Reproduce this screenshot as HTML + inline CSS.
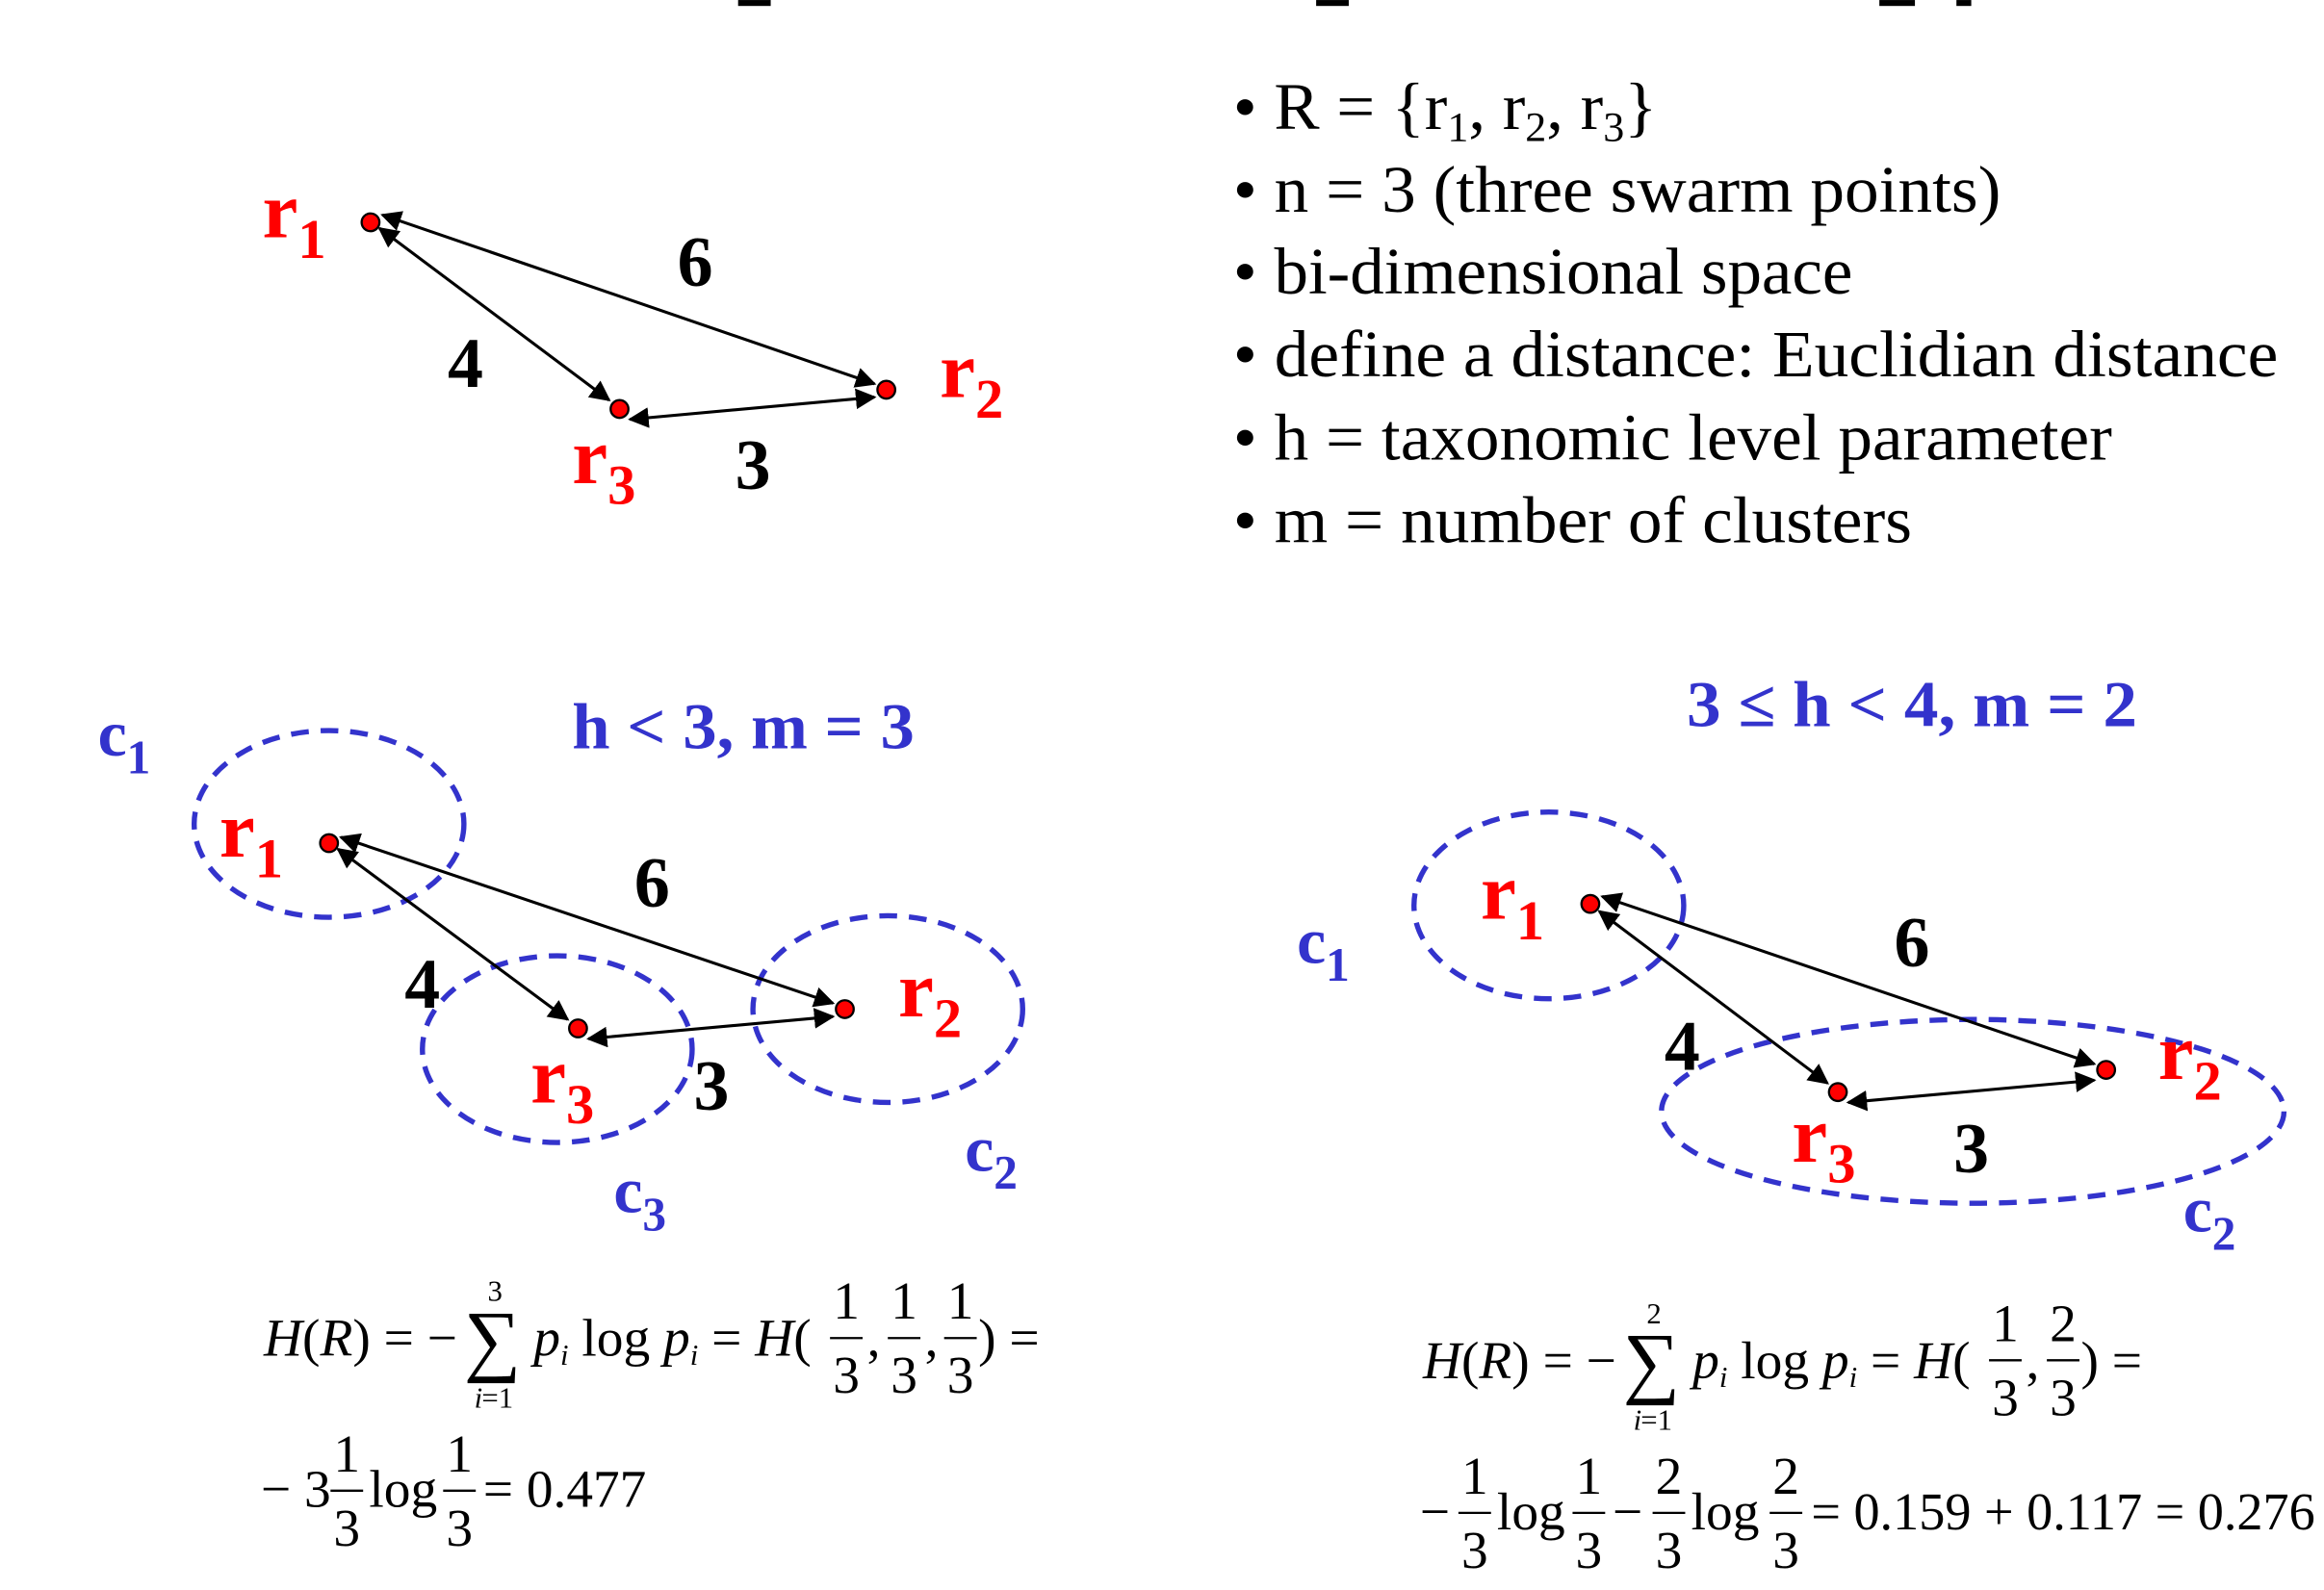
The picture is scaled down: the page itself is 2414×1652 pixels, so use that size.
<!DOCTYPE html>
<html><head><meta charset="utf-8"><style>
html,body{margin:0;padding:0;background:#fff;}
svg{display:block;}
.r{fill:#ff0000;font-family:"Liberation Serif",serif;font-weight:bold;font-size:54px;}
.n{fill:#000;font-family:"Liberation Serif",serif;font-weight:bold;font-size:48px;}
.c{fill:#3333cc;font-family:"Liberation Serif",serif;font-weight:bold;font-size:44px;}
.t{fill:#3333cc;font-family:"Liberation Serif",serif;font-weight:bold;font-size:44px;}
.b{fill:#000;font-family:"Liberation Serif",serif;font-size:45px;}
.f{fill:#000;font-family:"Liberation Serif",serif;font-size:36px;}
.fi{font-style:italic;}
.sm{font-size:20px;}
.e{fill:none;stroke:#3333cc;stroke-width:3.5;stroke-dasharray:12 8;}
.l{stroke:#000;stroke-width:2;marker-start:url(#ah);marker-end:url(#ah);}
.p{fill:#ff0000;stroke:#000;stroke-width:1.5;}
</style></head><body>
<svg width="2414" height="1652" viewBox="0 0 1568 1073" xmlns="http://www.w3.org/2000/svg">
<defs><marker id="ah" viewBox="0 0 10 10" refX="9" refY="5" markerWidth="7" markerHeight="7" orient="auto-start-reverse"><path d="M0,0 L10,5 L0,10 z" fill="#000"/></marker></defs>
<g fill="#000"><rect x="498" y="0" width="22" height="4"/><rect x="888" y="0" width="22" height="4"/><rect x="1268" y="0" width="24" height="4"/><rect x="1320" y="0" width="10" height="4"/></g>

<g>
<line class="l" x1="258" y1="145" x2="590" y2="259"/>
<line class="l" x1="256" y1="154" x2="411" y2="270"/>
<line class="l" x1="425" y1="283" x2="590" y2="268"/>
<circle class="p" cx="250" cy="150" r="6"/><circle class="p" cx="598" cy="263" r="6"/><circle class="p" cx="418" cy="276" r="6"/>
<text class="r" x="177" y="160">r<tspan font-size="38" dy="14">1</tspan></text>
<text class="r" x="634" y="268">r<tspan font-size="38" dy="14">2</tspan></text>
<text class="r" x="386" y="326">r<tspan font-size="38" dy="14">3</tspan></text>
<text class="n" x="457" y="193">6</text><text class="n" x="302" y="261">4</text><text class="n" x="496" y="330">3</text>
</g>

<g>
<text class="b" x="832" y="87" textLength="286" lengthAdjust="spacingAndGlyphs">• R = {r<tspan font-size="28" dy="8">1</tspan><tspan dy="-8">, r</tspan><tspan font-size="28" dy="8">2</tspan><tspan dy="-8">, r</tspan><tspan font-size="28" dy="8">3</tspan><tspan dy="-8">}</tspan></text>
<text class="b" x="832" y="143" textLength="518" lengthAdjust="spacingAndGlyphs">• n = 3 (three swarm points)</text>
<text class="b" x="832" y="198" textLength="418" lengthAdjust="spacingAndGlyphs">• bi-dimensional space</text>
<text class="b" x="832" y="254" textLength="705" lengthAdjust="spacingAndGlyphs">• define a distance: Euclidian distance</text>
<text class="b" x="832" y="310" textLength="593" lengthAdjust="spacingAndGlyphs">• h = taxonomic level parameter</text>
<text class="b" x="832" y="366" textLength="458" lengthAdjust="spacingAndGlyphs">• m = number of clusters</text>
</g>

<g>
<text class="t" x="386" y="505" textLength="231" lengthAdjust="spacingAndGlyphs">h &lt; 3, m = 3</text>
<ellipse class="e" cx="222" cy="556" rx="91" ry="63"/>
<ellipse class="e" cx="376" cy="708" rx="91" ry="63"/>
<ellipse class="e" cx="599" cy="681" rx="91" ry="63"/>
<line class="l" x1="230" y1="565" x2="562" y2="677"/>
<line class="l" x1="228" y1="573" x2="383" y2="688"/>
<line class="l" x1="397" y1="701" x2="562" y2="686"/>
<circle class="p" cx="222" cy="569" r="6"/><circle class="p" cx="570" cy="681" r="6"/><circle class="p" cx="390" cy="694" r="6"/>
<text class="r" x="148" y="578">r<tspan font-size="38" dy="14">1</tspan></text>
<text class="r" x="606" y="686">r<tspan font-size="38" dy="14">2</tspan></text>
<text class="r" x="358" y="744">r<tspan font-size="38" dy="14">3</tspan></text>
<text class="n" x="428" y="612">6</text><text class="n" x="273" y="680">4</text><text class="n" x="468" y="749">3</text>
<text class="c" x="66" y="510">c<tspan font-size="32" dy="12">1</tspan></text>
<text class="c" x="651" y="790">c<tspan font-size="32" dy="12">2</tspan></text>
<text class="c" x="414" y="818">c<tspan font-size="32" dy="12">3</tspan></text>
</g>

<g>
<text class="t" x="1138" y="490" textLength="304" lengthAdjust="spacingAndGlyphs">3 ≤ h &lt; 4, m = 2</text>
<ellipse class="e" cx="1045" cy="611" rx="91" ry="63"/>
<ellipse class="e" cx="1331" cy="750" rx="210" ry="62"/>
<line class="l" x1="1081" y1="605" x2="1413" y2="718"/>
<line class="l" x1="1079" y1="615" x2="1233" y2="731"/>
<line class="l" x1="1247" y1="744" x2="1413" y2="729"/>
<circle class="p" cx="1073" cy="610" r="6"/><circle class="p" cx="1421" cy="722" r="6"/><circle class="p" cx="1240" cy="737" r="6"/>
<text class="r" x="999" y="620">r<tspan font-size="38" dy="14">1</tspan></text>
<text class="r" x="1456" y="728">r<tspan font-size="38" dy="14">2</tspan></text>
<text class="r" x="1209" y="784">r<tspan font-size="38" dy="14">3</tspan></text>
<text class="n" x="1278" y="652">6</text><text class="n" x="1123" y="722">4</text><text class="n" x="1318" y="791">3</text>
<text class="c" x="875" y="650">c<tspan font-size="32" dy="12">1</tspan></text>
<text class="c" x="1473" y="831">c<tspan font-size="32" dy="12">2</tspan></text>
</g>

<g>
<text class="f" x="178" y="915"><tspan class="fi">H</tspan>(<tspan class="fi">R</tspan>) = −</text>
<text x="313" y="922" style="font-family:'Liberation Serif',serif;font-size:54px;fill:#000">∑</text>
<text class="f sm" x="329" y="878">3</text><text class="f sm fi" x="320" y="950">i</text><text class="f sm" x="325" y="950">=1</text>
<text class="f" x="360" y="915"><tspan class="fi">p</tspan><tspan class="fi" font-size="20" dy="6">i</tspan><tspan dy="-6"> log </tspan><tspan class="fi">p</tspan><tspan class="fi" font-size="20" dy="6">i</tspan><tspan dy="-6"> = </tspan><tspan class="fi">H</tspan>(</text>
<text class="f" x="562" y="890">1</text><line x1="560" y1="903" x2="582" y2="903" stroke="#000" stroke-width="1.5"/><text class="f" x="562" y="940">3</text>
<text class="f" x="585" y="915">,</text>
<text class="f" x="601" y="890">1</text><line x1="599" y1="903" x2="621" y2="903" stroke="#000" stroke-width="1.5"/><text class="f" x="601" y="940">3</text>
<text class="f" x="624" y="915">,</text>
<text class="f" x="639" y="890">1</text><line x1="637" y1="903" x2="659" y2="903" stroke="#000" stroke-width="1.5"/><text class="f" x="639" y="940">3</text>
<text class="f" x="660" y="915">) =</text>
<text class="f" x="176" y="1017">− 3</text>
<text class="f" x="225" y="993">1</text><line x1="223" y1="1006" x2="245" y2="1006" stroke="#000" stroke-width="1.5"/><text class="f" x="225" y="1043">3</text>
<text class="f" x="249" y="1017">log</text>
<text class="f" x="301" y="993">1</text><line x1="299" y1="1006" x2="321" y2="1006" stroke="#000" stroke-width="1.5"/><text class="f" x="301" y="1043">3</text>
<text class="f" x="326" y="1017" textLength="110" lengthAdjust="spacingAndGlyphs">= 0.477</text>
</g>

<g>
<text class="f" x="960" y="930"><tspan class="fi">H</tspan>(<tspan class="fi">R</tspan>) = −</text>
<text x="1095" y="937" style="font-family:'Liberation Serif',serif;font-size:54px;fill:#000">∑</text>
<text class="f sm" x="1111" y="893">2</text><text class="f sm fi" x="1102" y="965">i</text><text class="f sm" x="1107" y="965">=1</text>
<text class="f" x="1142" y="930"><tspan class="fi">p</tspan><tspan class="fi" font-size="20" dy="6">i</tspan><tspan dy="-6"> log </tspan><tspan class="fi">p</tspan><tspan class="fi" font-size="20" dy="6">i</tspan><tspan dy="-6"> = </tspan><tspan class="fi">H</tspan>(</text>
<text class="f" x="1344" y="905">1</text><line x1="1342" y1="918" x2="1364" y2="918" stroke="#000" stroke-width="1.5"/><text class="f" x="1344" y="955">3</text>
<text class="f" x="1367" y="930">,</text>
<text class="f" x="1383" y="905">2</text><line x1="1381" y1="918" x2="1403" y2="918" stroke="#000" stroke-width="1.5"/><text class="f" x="1383" y="955">3</text>
<text class="f" x="1404" y="930">) =</text>
<text class="f" x="958" y="1032">−</text>
<text class="f" x="986" y="1008">1</text><line x1="984" y1="1021" x2="1006" y2="1021" stroke="#000" stroke-width="1.5"/><text class="f" x="986" y="1058">3</text>
<text class="f" x="1010" y="1032">log</text>
<text class="f" x="1063" y="1008">1</text><line x1="1061" y1="1021" x2="1083" y2="1021" stroke="#000" stroke-width="1.5"/><text class="f" x="1063" y="1058">3</text>
<text class="f" x="1088" y="1032">−</text>
<text class="f" x="1117" y="1008">2</text><line x1="1115" y1="1021" x2="1137" y2="1021" stroke="#000" stroke-width="1.5"/><text class="f" x="1117" y="1058">3</text>
<text class="f" x="1141" y="1032">log</text>
<text class="f" x="1196" y="1008">2</text><line x1="1194" y1="1021" x2="1216" y2="1021" stroke="#000" stroke-width="1.5"/><text class="f" x="1196" y="1058">3</text>
<text class="f" x="1222" y="1032" textLength="340" lengthAdjust="spacingAndGlyphs">= 0.159 + 0.117 = 0.276</text>
</g>
</svg>
</body></html>
